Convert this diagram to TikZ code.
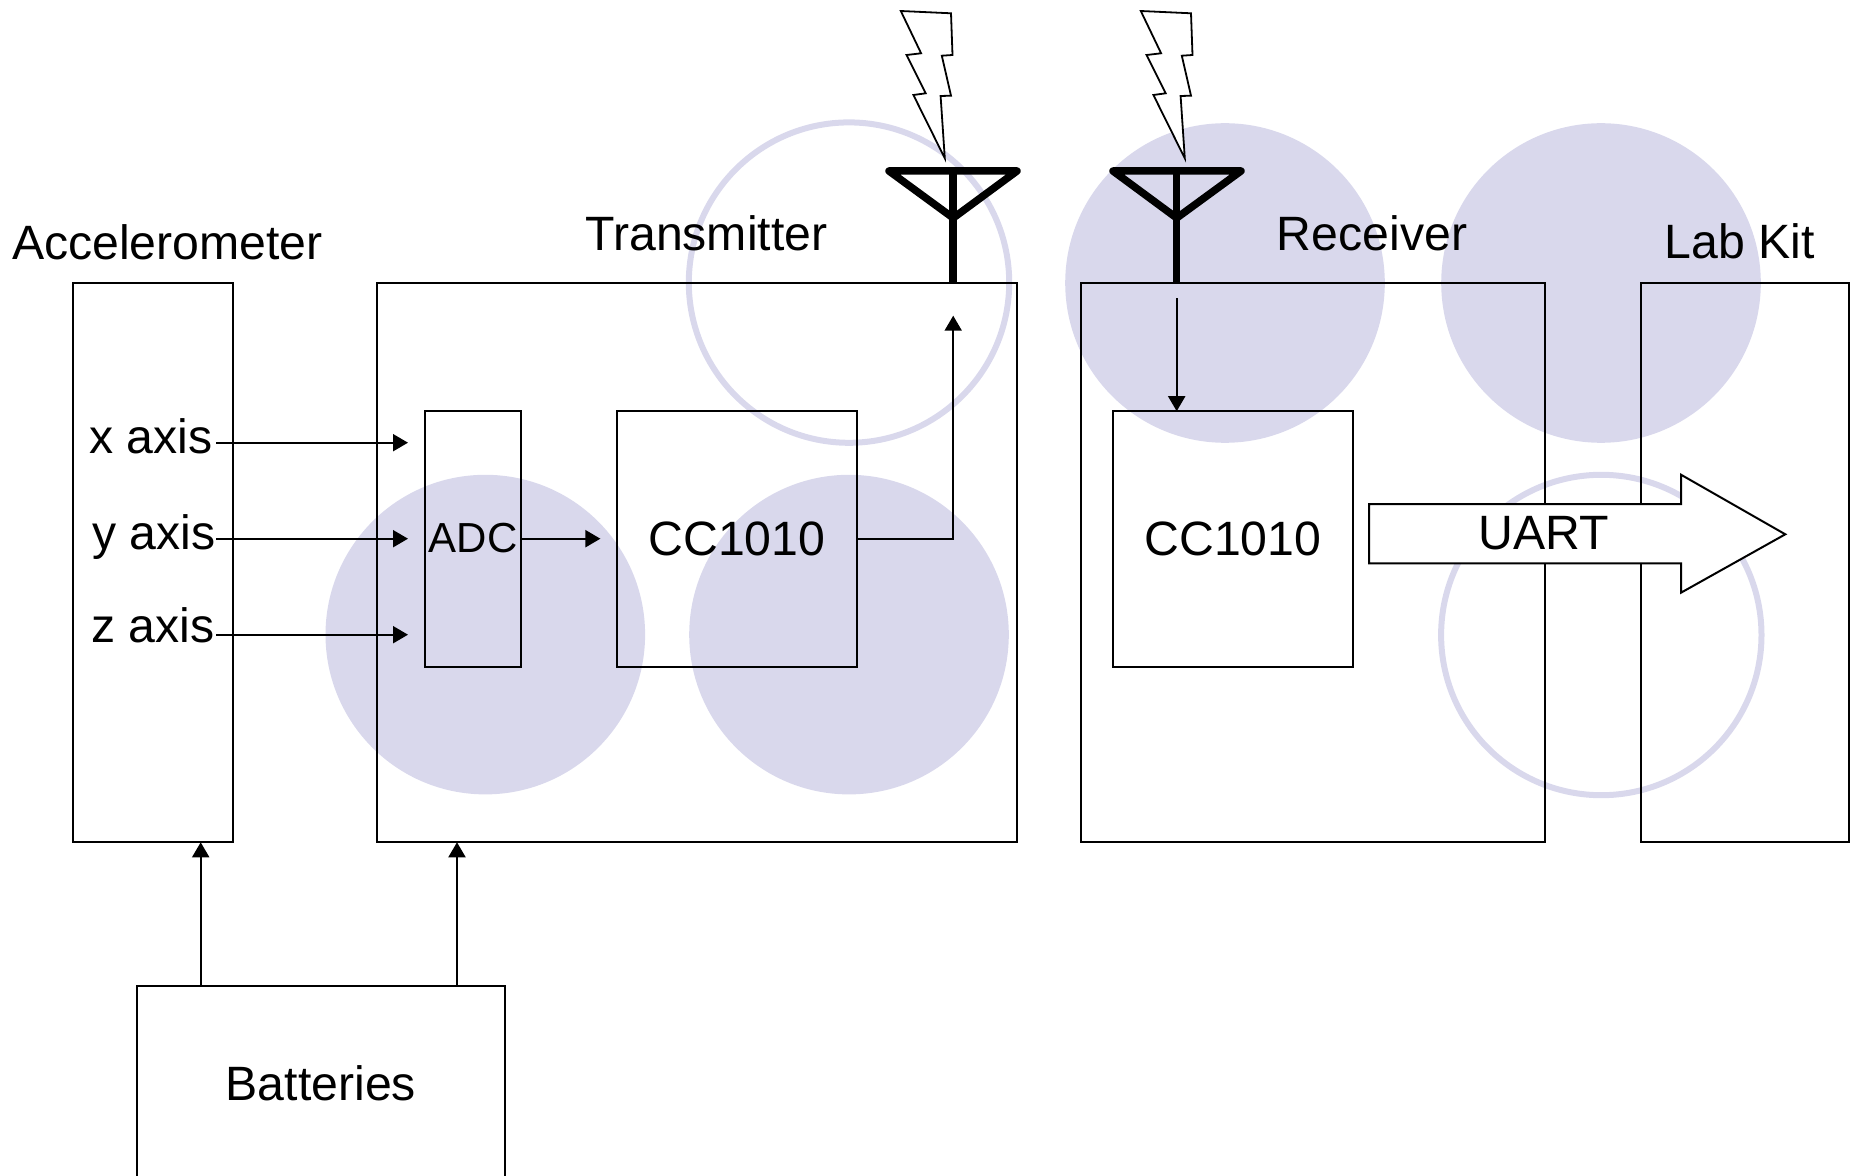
\documentclass[tikz,border=0pt]{standalone}
\usepackage{fontspec}
\setmainfont{Liberation Sans}
\usetikzlibrary{arrows.meta}
\definecolor{lav}{RGB}{217,216,236}
\tikzset{
  x=0.5pt,y=-0.5pt,
  box/.style={draw=black,line width=1pt,rectangle,inner sep=0pt,outer sep=0pt,font=\fontsize{24.1pt}{28pt}\selectfont},
  txt/.style={anchor=base,inner sep=0pt,outer sep=0pt,font=\fontsize{24.1pt}{28pt}\selectfont},
  blob/.style={fill=lav,draw=none},
  ring/.style={draw=lav,line width=3pt,fill=none},
  conn/.style={draw=black,line width=1pt,-{Triangle[length=7.5pt,width=8.5pt]}},
  ant/.style={draw=black,line width=3.75pt,line join=round,line cap=round},
  mast/.style={draw=black,line width=3.75pt},
  bolt/.style={draw=black,fill=white,line width=0.9pt,line join=miter},
  uartarrow/.style={draw=black,fill=white,line width=1pt,line join=miter}
}
\begin{document}
\begin{tikzpicture}
\useasboundingbox (0,0) rectangle (1858,1176);
\clip (0,0) rectangle (1858,1176);
% circles
\fill[blob] (485.3,634.6) circle (159.8);
\fill[blob] (849,634.6) circle (159.8);
\fill[blob] (1225,283) circle (159.8);
\fill[blob] (1601,283) circle (159.8);
\draw[ring] (849,282.6) circle (160.2);
\draw[ring] (1601.3,635) circle (160.2);
% boxes
\node[box,minimum width=80.2pt,minimum height=279.8pt] (accel) at (153.1,562.5) {};
\node[box,minimum width=320pt,minimum height=279.8pt] (tx) at (697,562.5) {};
\node[box,minimum width=232.15pt,minimum height=279.8pt] (rx) at (1312.85,562.5) {};
\node[box,minimum width=104.15pt,minimum height=279.8pt] (lab) at (1745.15,562.5) {};
\node[box,minimum width=48.4pt,minimum height=127.8pt,text depth=1.6pt,font=\fontsize{21pt}{24pt}\selectfont] (adc) at (473,539) {ADC};
\node[box,minimum width=120pt,minimum height=127.8pt,text depth=0.8pt] (cctx) at (737,539) {CC1010};
\node[box,minimum width=120.1pt,minimum height=127.8pt,text depth=0.8pt] (ccrx) at (1232.9,539) {CC1010};
\node[box,minimum width=184.15pt,minimum height=97.35pt] (bat) at (320.85,1083.5) {Batteries};
% labels
\node[txt] (lacc) at (167.5,259.7) {Accelerometer};
\node[txt] (ltx) at (706.5,251) {Transmitter};
\node[txt] (lrx) at (1372,251) {Receiver};
\node[txt] (llab) at (1739.6,259) {Lab Kit};
\node[txt] (lx) at (151,453.3) {x axis};
\node[txt] (ly) at (154,549) {y axis};
\node[txt] (lz) at (153,642.7) {z axis};
% connector ends
\coordinate (xs) at (216.4,442.7);
\coordinate (ys) at (216.4,538.7);
\coordinate (zs) at (216.4,634.7);
\coordinate (xe) at (408,442.7);
\coordinate (ye) at (408,538.7);
\coordinate (ze) at (408,634.7);
\coordinate (adce) at (600.4,538.7);
\coordinate (txo) at (857,538.7);
\coordinate (txc) at (953.2,538.7);
\coordinate (txe) at (953.2,315.7);
\coordinate (rxs) at (1176.7,298.3);
\coordinate (b1) at (200.7,1000);
\coordinate (b2) at (457,1000);
\coordinate (a1) at (953.2,171);
\coordinate (a2) at (1176.7,171);
\draw[conn] (xs) -- (xe);
\draw[conn] (ys) -- (ye);
\draw[conn] (zs) -- (ze);
\draw[conn] (adc.east |- ys) -- (adce);
\draw[conn] (txo) -- (txc) -- (txe);
\draw[conn] (rxs) -- (rxs |- ccrx.north);
\draw[conn] (b1 |- bat.north) -- (b1 |- accel.south);
\draw[conn] (b2 |- bat.north) -- (b2 |- tx.south);
% antennas
\draw[ant] (889,171) -- (1017,171) -- (953.2,218) -- cycle;
\draw[mast] (a1) -- (a1 |- tx.north);
\draw[ant] (1113,171) -- (1241,171) -- (1176.7,218) -- cycle;
\draw[mast] (a2) -- (a2 |- rx.north);
% lightning
\foreach \dx in {0,240}{
\draw[bolt,xshift=\dx*0.5pt] (900.8,11) -- (951,13.3) -- (952.5,55) -- (941.8,55.7) -- (951,95.7) -- (940.6,96) -- (944.8,158.3) -- (913.4,95) -- (925.7,93.3) -- (906.6,55) -- (921.1,53.3) -- cycle;
}
% UART arrow
\draw[uartarrow] (1369,504) -- (1681,504) -- (1681,474.7) -- (1785.3,534.3) -- (1681,592.7) -- (1681,563.3) -- (1369,563.3) -- cycle;
\node[txt] (luart) at (1544,549.3) {UART};
\end{tikzpicture}
\end{document}
